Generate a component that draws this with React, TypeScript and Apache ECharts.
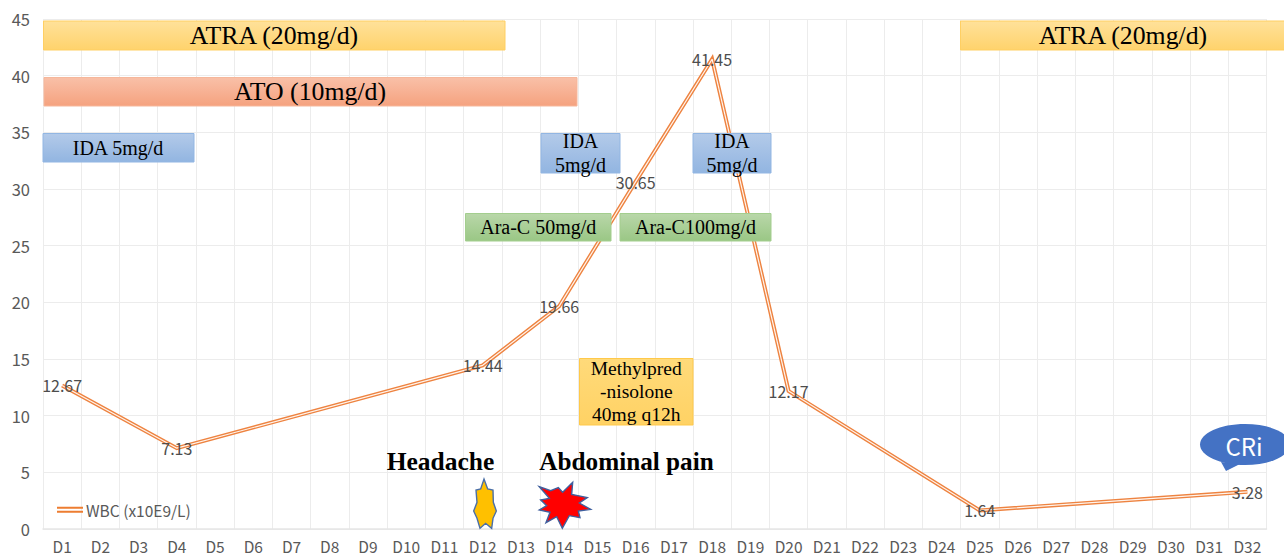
import React, { useEffect, useRef } from "react";
import * as echarts from "echarts";

const days: string[] = [];
for (const n of [1,2,3,4,5,6,7,8,9,10,11,12,13,14,15,16,17,18,19,20,21,22,23,24,25,26,27,28,29,30,31,32]) days.push("D" + n);

const wbcDays = ["D1", "D4", "D12", "D14", "D16", "D18", "D20", "D25", "D32"];
const wbcValues = [12.67, 7.13, 14.44, 19.66, 30.65, 41.45, 12.17, 1.64, 3.28];
const yMax = 45;
const yStep = 5;
const seriesName = "WBC (x10E9/L)";

const wbc = days.map((d) => {
  const i = wbcDays.indexOf(d);
  return i >= 0 ? wbcValues[i] : null;
});

const serif = "'Liberation Serif', serif";
const sans = "'Noto Sans CJK SC', 'Noto Sans', sans-serif";

const grad = (a: string, b: string) => ({
  type: "linear", x: 0, y: 0, x2: 0, y2: 1,
  colorStops: [{ offset: 0, color: a }, { offset: 1, color: b }],
});

const YELLOW = { fill: grad("#FFE19A", "#FFD36C"), stroke: "#FFCF63" };
const RED = { fill: grad("#F9C0A8", "#F5A27F"), stroke: "#F6B79B" };
const BLUE = { fill: grad("#B3CAE9", "#92B5E1"), stroke: "#92B6E3" };
const GREEN = { fill: grad("#B9D7A9", "#9AC785"), stroke: "#A3CE8E" };
const AMBER = { fill: grad("#FFDA7A", "#FFD264"), stroke: "#FFC94A" };

function box(x0: number, y0: number, x1: number, y1: number, c: any, text: string, size: number, lh?: number, dy = 0, cx?: number) {
  return {
    type: "group",
    z: 20,
    children: [
      { type: "rect", z: 20, shape: { x: x0, y: y0, width: x1 - x0, height: y1 - y0 }, style: { fill: c.fill, stroke: c.stroke, lineWidth: 1 } },
      {
        type: "text", z: 21, x: cx ?? (x0 + x1) / 2, y: (y0 + y1) / 2 + dy,
        style: { text, fill: "#000", font: `${size}px ${serif}`, align: "center", verticalAlign: "middle", lineHeight: lh ?? size * 1.2 },
      },
    ],
  };
}

const heading = (x: number, y: number, text: string, size: number) => ({
  type: "text", z: 21, x, y,
  style: { text, fill: "#000", font: `bold ${size}px ${serif}`, align: "center", verticalAlign: "middle" },
});

const crop = (pts: number[][], ox: number, oy: number) => pts.map(([x, y]) => [ox + x / 3, oy + y / 3]);
const starPts = [[57,12],[68,42],[84,45],[85,82],[94,108],[84,130],[80,160],[62,145],[45,160],[36,130],[26,108],[36,82],[33,45],[47,42]];
const burstPts = [[28,35],[62,47],[85,38],[98,52],[128,22],[125,58],[172,68],[148,84],[182,103],[145,108],[150,128],[118,122],[97,160],[80,125],[48,143],[60,112],[28,105],[50,92],[32,75],[58,70]];

export default function App() {
  const ref = useRef<HTMLDivElement>(null);
  useEffect(() => {
    const chart = echarts.init(ref.current!, undefined, { renderer: "svg" });
    chart.setOption({
      animation: false,
      backgroundColor: "#fff",
      grid: { left: 43, right: 17.5, top: 19, bottom: 27 },
      legend: {
        data: [seriesName],
        left: 52, top: 497,
        itemWidth: 26, itemHeight: 6,
        icon: "path://M0 0H26V2H0ZM0 4H26V6H0Z",
        textStyle: { color: "#595959", fontSize: 15.5, fontFamily: sans, padding: [0, 0, 0, -2] },
      },
      xAxis: {
        type: "category", data: days, boundaryGap: true,
        axisTick: { show: false },
        axisLine: { lineStyle: { color: "#e6e6e6", width: 1.5 } },
        axisLabel: { color: "#595959", fontSize: 15.5, fontFamily: sans, interval: 0, margin: 9 },
        splitLine: { show: true, interval: 0, lineStyle: { color: "#ececec", width: 1 } },
      },
      yAxis: {
        type: "value", min: 0, max: yMax, interval: yStep,
        axisLine: { show: false }, axisTick: { show: false },
        axisLabel: { color: "#595959", fontSize: 16.5, fontFamily: sans, margin: 13, padding: [0, 0, 4, 0] },
        splitLine: { lineStyle: { color: "#ececec", width: 1 } },
      },
      series: [
        {
          name: seriesName, type: "line", data: wbc, connectNulls: true, showSymbol: false, symbol: "none", z: 3,
          itemStyle: { color: "#ED7D31" },
          lineStyle: { color: "#EE8340", width: 4, join: "miter" },
        },
        {
          name: "wbc-core", type: "line", data: wbc, connectNulls: true, showSymbol: true, symbol: "circle", symbolSize: 0.01, z: 4,
          itemStyle: { color: "transparent" },
          lineStyle: { color: "#FFF4EC", width: 1.2 },
          label: {
            show: true, position: "inside", color: "#4d4d4d", fontSize: 16, fontFamily: sans,
            formatter: (p: any) => (p.value == null ? "" : p.value.toFixed(2)),
          },
        },
      ],
      graphic: [
        box(43.5, 21, 505, 50, YELLOW, "ATRA (20mg/d)", 25.8, undefined, 0, 274),
        box(960.5, 21, 1290, 50, YELLOW, "ATRA (20mg/d)", 25.8, undefined, 0, 1123),
        box(44, 77.5, 577, 106, RED, "ATO (10mg/d)", 25.8, undefined, 0, 310),
        box(43, 133.5, 194, 162, BLUE, "IDA 5mg/d", 20, undefined, 0, 118),
        box(541, 133.5, 620, 173, BLUE, "IDA\n5mg/d", 20, 24),
        box(693, 133.5, 771, 173, BLUE, "IDA\n5mg/d", 20, 24),
        box(465.5, 213.5, 611, 241, GREEN, "Ara-C 50mg/d", 20),
        box(620, 213.5, 771, 241, GREEN, "Ara-C100mg/d", 20),
        box(579.5, 358.5, 693, 425, AMBER, "Methylpred\n-nisolone\n40mg q12h", 19.5, 23),
        heading(440.5, 461, "Headache", 25.5),
        heading(626.5, 461, "Abdominal pain", 25.2),
        { type: "polygon", z: 20, shape: { points: crop(starPts, 465, 475) }, style: { fill: "#FFC000", stroke: "#4A6FA8", lineWidth: 1.4 } },
        { type: "polygon", z: 20, shape: { points: crop(burstPts, 530, 475) }, style: { fill: "#FF0000", stroke: "#3F5F9E", lineWidth: 1.4 } },
        { type: "polygon", z: 20, shape: { points: [[1221, 462], [1226, 471], [1240, 464]] }, style: { fill: "#4472C4" } },
        { type: "ellipse", z: 20, shape: { cx: 1245, cy: 444.5, rx: 45, ry: 20.5 }, style: { fill: "#4472C4" } },
        {
          type: "text", z: 21, x: 1244, y: 445,
          style: { text: "CRi", fill: "#fff", font: `24px ${sans}`, align: "center", verticalAlign: "middle" },
        },
      ],
    });
    return () => chart.dispose();
  }, []);
  return <div ref={ref} style={{ position: "absolute", left: 0, top: 0, width: 1284, height: 556 }} />;
}
